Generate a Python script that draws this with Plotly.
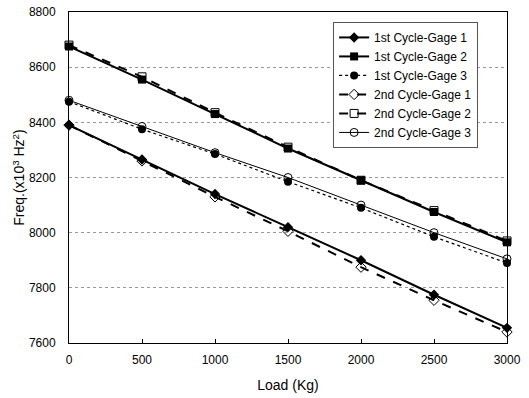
import plotly.graph_objects as go

loads = [0, 500, 1000, 1500, 2000, 2500, 3000]
c1_g1 = [8390, 8265, 8140, 8020, 7900, 7775, 7655]
c1_g2 = [8675, 8555, 8430, 8305, 8190, 8075, 7965]
c1_g3 = [8475, 8375, 8285, 8185, 8090, 7985, 7890]
c2_g1 = [8390, 8260, 8130, 8005, 7875, 7755, 7640]
c2_g2 = [8680, 8565, 8435, 8310, 8190, 8080, 7970]
c2_g3 = [8480, 8385, 8290, 8200, 8100, 8000, 7905]
names = ["1st Cycle-Gage 1", "1st Cycle-Gage 2", "1st Cycle-Gage 3",
         "2nd Cycle-Gage 1", "2nd Cycle-Gage 2", "2nd Cycle-Gage 3"]
x_ticks = [0, 500, 1000, 1500, 2000, 2500, 3000]
y_ticks = [7600, 7800, 8000, 8200, 8400, 8600, 8800]

series = [c1_g1, c1_g2, c1_g3, c2_g1, c2_g2, c2_g3]
styles = [
    dict(line=dict(color="black", width=2, dash="solid"), marker=dict(symbol="diamond", size=8, color="black")),
    dict(line=dict(color="black", width=2, dash="solid"), marker=dict(symbol="square", size=8, color="black")),
    dict(line=dict(color="black", width=1.2, dash="dot"), marker=dict(symbol="circle", size=8, color="black")),
    dict(line=dict(color="black", width=2, dash="dash"), marker=dict(symbol="diamond-open", size=8, color="black")),
    dict(line=dict(color="black", width=2, dash="dash"), marker=dict(symbol="square-open", size=8, color="black")),
    dict(line=dict(color="black", width=1, dash="solid"), marker=dict(symbol="circle-open", size=8, color="black")),
]

fig = go.Figure()
for n, s, st in zip(names, series, styles):
    fig.add_trace(go.Scatter(x=loads, y=s, name=n, mode="lines+markers", cliponaxis=False, **st))

fig.update_layout(
    width=529, height=398,
    margin=dict(l=69, r=22, t=12, b=55),
    paper_bgcolor="white", plot_bgcolor="white",
    font=dict(family="Liberation Sans, Arial, sans-serif", size=12, color="black"),
    showlegend=True,
    legend=dict(x=0.603, y=0.97, xanchor="left", yanchor="top",
                bgcolor="white", bordercolor="#555", borderwidth=1,
                font=dict(size=12), tracegroupgap=0, itemwidth=30),
    xaxis=dict(range=[0, 3000], tickvals=x_ticks, showgrid=False, zeroline=False,
               showline=True, linecolor="black", linewidth=1, mirror=True,
               ticks="inside", ticklen=4, tickcolor="black", automargin=False,
               ticklabelstandoff=6,
               title=dict(text="Load (Kg)", standoff=13)),
    yaxis=dict(range=[7600, 8800], tickvals=y_ticks, showgrid=True,
               gridcolor="#999", griddash="dot", gridwidth=1, zeroline=False,
               showline=True, linecolor="black", linewidth=1, mirror=True,
               ticks="", automargin=False, ticklabelstandoff=10,
               title=dict(text="Freq.(x10<sup>3</sup> Hz<sup>2</sup>)", standoff=0)),
)

# remove the default 8px page margin so the figure fills the window exactly
fig.write_html("out.html", config={"displayModeBar": False},
               post_script="document.body.style.margin='0';")
